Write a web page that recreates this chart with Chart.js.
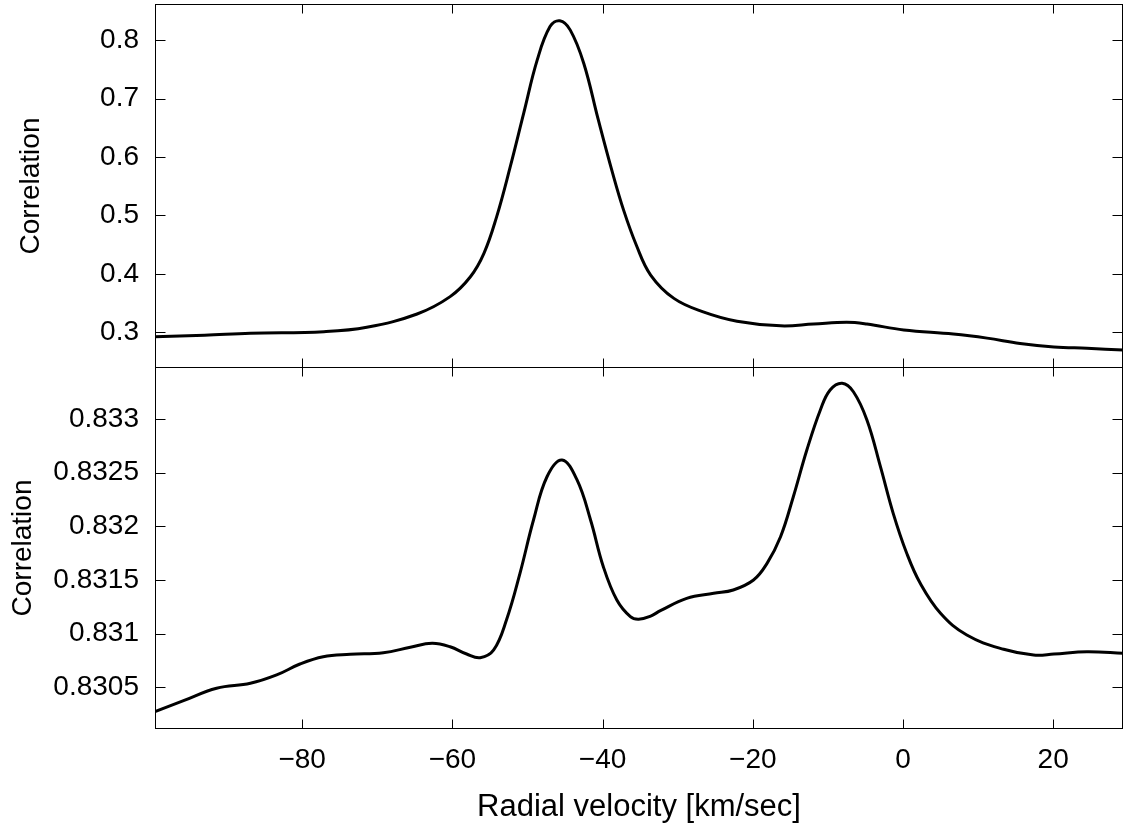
<!DOCTYPE html>
<html>
<head>
<meta charset="utf-8">
<script src="https://cdn.jsdelivr.net/npm/chart.js@4.4.1/dist/chart.umd.min.js"></script>
<style>
  html, body { margin: 0; padding: 0; background: #fff; }
  #wrap { position: relative; width: 1124px; height: 828px; }
  #topBox { position: absolute; left: 0; top: 0; width: 1124px; height: 372px; }
  #botBox { position: absolute; left: 0; top: 357px; width: 1124px; height: 471px; }
</style>
</head>
<body>
<div id="wrap">
  <div id="topBox"><canvas id="topChart"></canvas></div>
  <div id="botBox"><canvas id="botChart"></canvas></div>
</div>
<script>
// x axis (shared)
const xTicks = [-80, -60, -40, -20, 0, 20];

// top panel
const topVel = [-99.6, -93, -86.9, -77.1, -71.4, -64.7, -60.3, -57.6, -55.8, -54.1, -52.3, -50.5, -48.7, -47.0, -45.7,
  -44.3, -42.5, -40.6, -38.7, -37.2, -35.5, -33.6, -30.5, -26.6, -22.1, -16.3, -11.9, -7.5, -4.8, 0.1, 6.7, 11.2,
  15.6, 20.1, 24.5, 29.4];
const topCorr = [0.2925, 0.295, 0.2983, 0.301, 0.3086, 0.3313, 0.361, 0.395, 0.435, 0.498, 0.583, 0.675, 0.766, 0.823, 0.833,
  0.817, 0.760, 0.665, 0.574, 0.509, 0.449, 0.398, 0.358, 0.335, 0.319, 0.311, 0.314, 0.317, 0.314, 0.304, 0.297, 0.290,
  0.281, 0.275, 0.2726, 0.2697];
const topTicks = [0.3, 0.4, 0.5, 0.6, 0.7, 0.8];

// bottom panel
const botVel = [-99.6, -95.8, -91.4, -86.9, -83.4, -80.3, -77.2, -73.6, -69.2, -65.6, -62.7, -60.3, -58.1, -56.3, -54.5,
  -52.8, -51.0, -49.2, -47.4, -45.4, -43.4, -41.6, -39.9, -38.1, -36.3, -35.2, -33.6, -32.3, -28.8, -25.2, -22.6,
  -19.9, -18.1, -16.3, -14.6, -12.8, -11.0, -9.7, -8.1, -6.6, -4.8, -3.0, -1.3, 0.5, 2.3, 5.0, 8.5, 13.4, 17.4,
  20.1, 24.5, 29.4];
const botCorr = [0.830273, 0.830375, 0.830491, 0.830537, 0.830615, 0.830717, 0.830785, 0.830807, 0.830822, 0.830873,
  0.830910, 0.830878, 0.830810, 0.830776, 0.830848, 0.831127, 0.831562, 0.832059, 0.832462, 0.832618, 0.832432,
  0.832059, 0.831624, 0.831313, 0.831158, 0.831134, 0.831164, 0.831214, 0.831329, 0.831376, 0.831407, 0.831500,
  0.831655, 0.831903, 0.832276, 0.832711, 0.833084, 0.833270, 0.833333, 0.833254, 0.832991, 0.832556, 0.832121,
  0.831749, 0.831469, 0.831190, 0.830987, 0.830854, 0.830801, 0.830810, 0.830832, 0.830817];
const botTicks = [0.8305, 0.831, 0.8315, 0.832, 0.8325, 0.833];

Chart.defaults.font.family = '"Liberation Sans", Arial, Helvetica, sans-serif';
Chart.defaults.font.size = 28;
Chart.defaults.color = "#000";

// box + inward tick marks like the original figure
const frameTicks = {
  id: "frameTicks",
  afterDraw(chart, args, opts) {
    const { ctx, chartArea: a, scales } = chart;
    const L = Math.round(a.left) + 0.5, R = Math.round(a.right) - 0.5;
    const T = Math.round(a.top) + 0.5, B = Math.round(a.bottom) - 0.5;
    ctx.save();
    ctx.strokeStyle = "#000";
    ctx.lineWidth = 1;
    ctx.strokeRect(L, T, R - L, B - T);
    ctx.beginPath();
    xTicks.forEach((v) => {
      const px = Math.round(scales.x.getPixelForValue(v)) + 0.5;
      ctx.moveTo(px, T); ctx.lineTo(px, T + 9);
      ctx.moveTo(px, B); ctx.lineTo(px, B - 9);
    });
    opts.yTicks.forEach((v) => {
      const py = Math.round(scales.y.getPixelForValue(v)) + 0.5;
      ctx.moveTo(L, py); ctx.lineTo(L + 10, py);
      ctx.moveTo(R, py); ctx.lineTo(R - 10, py);
    });
    ctx.stroke();
    ctx.restore();
  },
};

function noEdgePadding(s) {
  s.paddingTop = 0;
  s.paddingBottom = 0;
  s.paddingLeft = 0;
  s.paddingRight = 0;
}

function CorrPanel(id, vel, corr, yMin, yMax, yTicks, isBottom) {
  const ctx = document.getElementById(id).getContext("2d");

  new Chart(ctx, {
    type: "line",
    data: {
      datasets: [
        {
          data: vel.map((v, i) => ({ x: v, y: corr[i] })),
          borderColor: "#000",
          borderWidth: 3,
          pointRadius: 0,
          fill: false,
          tension: 0.4,
        },
      ],
    },
    plugins: [frameTicks],
    options: {
      responsive: true,
      maintainAspectRatio: false,
      animation: false,
      layout: { padding: isBottom ? { top: 10, right: 1, bottom: 0, left: 0 } : { top: 4, right: 1, bottom: 4, left: 0 } },
      plugins: {
        legend: { display: false },
        tooltip: { enabled: false },
        frameTicks: { yTicks: yTicks },
      },
      scales: {
        x: {
          type: "linear",
          min: -99.6,
          max: 29.3,
          display: isBottom,
          grid: { display: false },
          border: { display: false },
          afterBuildTicks: (s) => { s.ticks = xTicks.map((v) => ({ value: v })); },
          afterFit: (s) => { s.height = isBottom ? 99 : 0; noEdgePadding(s); },
          ticks: {
            padding: 6,
            maxRotation: 0,
            callback: (v) => (v < 0 ? "\u2212" + Math.abs(v) : String(v)),
          },
          title: {
            display: true,
            text: "Radial velocity [km/sec]",
            font: { size: 31 },
            padding: { top: 0, bottom: 2 },
          },
        },
        y: {
          min: yMin,
          max: yMax,
          grid: { display: false },
          border: { display: false },
          afterBuildTicks: (s) => { s.ticks = yTicks.map((v) => ({ value: v })); },
          afterFit: (s) => { s.width = 155; noEdgePadding(s); },
          ticks: {
            padding: 8,
            callback: (v) => String(+v.toFixed(4)),
          },
          title: {
            display: true,
            text: "Correlation",
            padding: { top: isBottom ? 6 : 14, bottom: 0 },
          },
        },
      },
    },
  });
}

CorrPanel("topChart", topVel, topCorr, 0.2389, 0.8617, topTicks, false);
CorrPanel("botChart", botVel, botCorr, 0.8301114, 0.8334845, botTicks, true);
</script>
</body>
</html>
